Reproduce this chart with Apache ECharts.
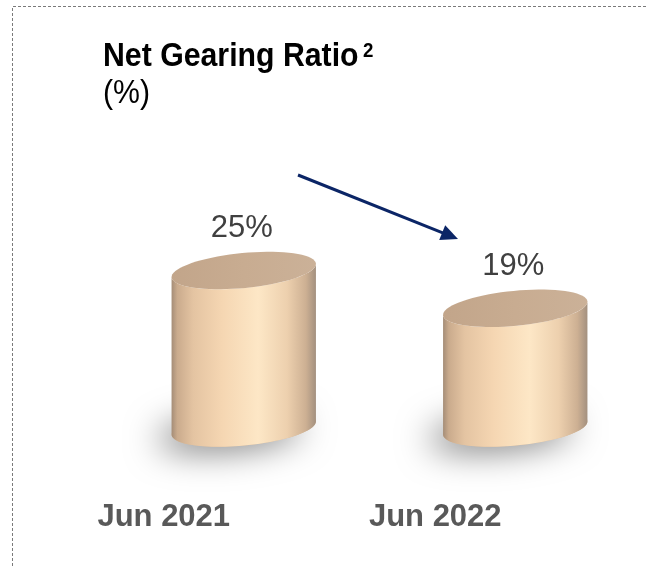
<!DOCTYPE html>
<html>
<head>
<meta charset="utf-8">
<script src="https://cdn.jsdelivr.net/npm/echarts@6/dist/echarts.min.js"></script>
<style>
  html, body { margin: 0; padding: 0; background: #ffffff; }
  #chart { width: 646px; height: 566px; }
</style>
</head>
<body>
<div id="chart"></div>
<script>
// Net gearing ratio (%) by reporting period
const categories = ['Jun 2021', 'Jun 2022'];
const gearingRatio = [25, 19];
const valueLabels = ['25%', '19%'];

const FONT = '"Liberation Sans", Arial, Helvetica, sans-serif';

// Cylinder geometry (pixels)
const RX = 72.5;           // half width of the cylinder
const RY = 17.5;           // half depth of the elliptical cap
const TILT = 5.5 * Math.PI / 180;  // cap tilt, right side raised
const SHIFT_X = 80;        // perspective shift of the cylinder from its category centre

function ellipsePoint(cx, cy, t) {
  return [
    cx + RX * Math.cos(t) * Math.cos(TILT) + RY * Math.sin(t) * Math.sin(TILT),
    cy - RX * Math.cos(t) * Math.sin(TILT) + RY * Math.sin(t) * Math.cos(TILT)
  ];
}

function arc(cx, cy, t0, t1, steps) {
  const pts = [];
  for (let i = 0; i <= steps; i++) {
    pts.push(ellipsePoint(cx, cy, t0 + (t1 - t0) * i / steps));
  }
  return pts;
}

const T_RIGHT = Math.atan((RY / RX) * Math.tan(TILT));
const T_LEFT = T_RIGHT + Math.PI;

const bodyGradient = new echarts.graphic.LinearGradient(0, 0, 1, 0, [
  { offset: 0.00, color: '#a58d77' },
  { offset: 0.04, color: '#caab8d' },
  { offset: 0.15, color: '#e4c4a2' },
  { offset: 0.35, color: '#f5d6b2' },
  { offset: 0.60, color: '#fde7c6' },
  { offset: 0.80, color: '#edd0ae' },
  { offset: 0.93, color: '#cdb093' },
  { offset: 1.00, color: '#a3907f' }
]);

const capGradient = new echarts.graphic.LinearGradient(0, 0, 1, 0, [
  { offset: 0, color: '#c2a58a' },
  { offset: 0.5, color: '#c8ac91' },
  { offset: 1, color: '#cbb198' }
]);

function renderCylinder(params, api) {
  const idx = api.value(0);
  const base = api.coord([idx, 0]);
  const top = api.coord([idx, api.value(1)]);
  const cx = base[0] + SHIFT_X;
  const yb = base[1];
  const yt = top[1];

  const shadow = arc(cx, yb, 0, Math.PI * 2, 72);
  const body = arc(cx, yb, T_RIGHT, T_LEFT, 48).concat(arc(cx, yt, T_LEFT, T_RIGHT, 48));
  const cap = arc(cx, yt, 0, Math.PI * 2, 72);

  return {
    type: 'group',
    children: [
      {
        type: 'polygon',
        shape: { points: shadow },
        style: {
          fill: '#d8bc9e',
          shadowBlur: 34,
          shadowColor: 'rgba(0,0,0,0.5)',
          shadowOffsetX: -14,
          shadowOffsetY: 5
        }
      },
      {
        type: 'polygon',
        shape: { points: body },
        style: { fill: bodyGradient }
      },
      {
        type: 'polygon',
        shape: { points: cap },
        style: { fill: capGradient }
      },
      {
        type: 'text',
        x: cx - 2,
        y: yt - 42,
        style: {
          text: valueLabels[params.dataIndex],
          font: '31px ' + FONT,
          fill: '#404040',
          align: 'center',
          verticalAlign: 'middle',
          textAlign: 'center',
          textVerticalAlign: 'middle'
        }
      }
    ]
  };
}

const chart = echarts.init(document.getElementById('chart'), null, { renderer: 'canvas' });

chart.setOption({
  animation: false,
  backgroundColor: '#ffffff',
  grid: { left: 28, width: 543, top: 176, height: 252 },
  xAxis: {
    type: 'category',
    data: categories,
    axisLine: { show: false },
    axisTick: { show: false },
    splitLine: { show: false },
    axisLabel: {
      margin: 74,
      fontSize: 31,
      fontWeight: 'bold',
      fontFamily: FONT,
      color: '#595959'
    }
  },
  yAxis: {
    type: 'value',
    min: 0,
    max: 40,
    show: false
  },
  series: [{
    type: 'custom',
    clip: false,
    encode: { x: 0, y: 1 },
    data: gearingRatio.map((v, i) => [i, v]),
    renderItem: renderCylinder
  }],
  graphic: [
    // dotted frame on the top and left edges
    {
      type: 'polyline',
      shape: { points: [[12.5, 566], [12.5, 6.5], [646, 6.5]] },
      style: { stroke: '#7a7a7a', lineWidth: 1, lineDash: [3, 2], fill: null }
    },
    // title
    {
      type: 'text',
      x: 103,
      y: 57,
      scaleX: 0.89,
      style: {
        text: 'Net Gearing Ratio',
        font: 'bold 34px ' + FONT,
        fill: '#000000',
        align: 'left',
        verticalAlign: 'middle',
        textAlign: 'left',
        textVerticalAlign: 'middle'
      }
    },
    {
      type: 'text',
      x: 363,
      y: 51,
      scaleX: 0.89,
      style: {
        text: '2',
        font: 'bold 21px ' + FONT,
        fill: '#000000',
        align: 'left',
        verticalAlign: 'middle',
        textAlign: 'left',
        textVerticalAlign: 'middle'
      }
    },
    {
      type: 'text',
      x: 103,
      y: 94,
      scaleX: 0.89,
      style: {
        text: '(%)',
        font: '34px ' + FONT,
        fill: '#000000',
        align: 'left',
        verticalAlign: 'middle',
        textAlign: 'left',
        textVerticalAlign: 'middle'
      }
    },
    // trend arrow between the two periods
    {
      type: 'line',
      shape: { x1: 298, y1: 175, x2: 444, y2: 233.4 },
      style: { stroke: '#0b2566', lineWidth: 3 }
    },
    {
      type: 'polygon',
      shape: { points: [[458, 239], [439.2, 240.1], [445.2, 225.3]] },
      style: { fill: '#0b2566' }
    }
  ]
});
</script>
</body>
</html>
